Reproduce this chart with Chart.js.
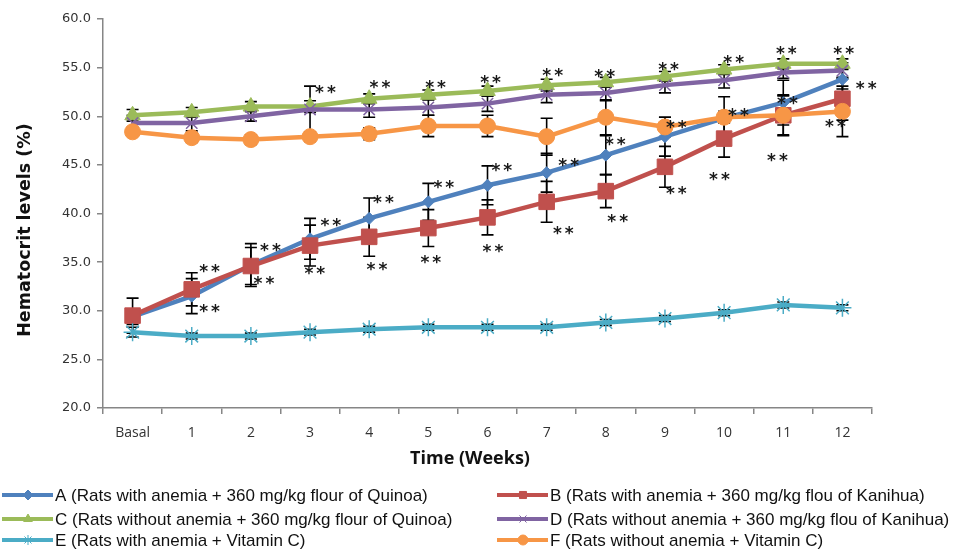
<!DOCTYPE html>
<html>
<head>
<meta charset="utf-8">
<script src="https://cdn.jsdelivr.net/npm/chart.js@4.4.1/dist/chart.umd.min.js"></script>
<style>
  html, body { margin: 0; padding: 0; background: #fff; }
  #wrap { width: 958px; height: 549px; }
</style>
</head>
<body>
<div id="wrap"><canvas id="c"></canvas></div>
<script>
// categories
const weeks = ['Basal', '1', '2', '3', '4', '5', '6', '7', '8', '9', '10', '11', '12'];

// series means (%)
const groupA = [29.4, 31.5, 34.7, 37.4, 39.5, 41.2, 42.9, 44.2, 46.0, 47.9, 49.8, 51.4, 53.8];
const groupB = [29.5, 32.2, 34.6, 36.7, 37.6, 38.5, 39.6, 41.2, 42.3, 44.8, 47.7, 50.1, 51.8];
const groupC = [50.1, 50.4, 51.0, 51.0, 51.8, 52.2, 52.6, 53.2, 53.5, 54.1, 54.8, 55.4, 55.4];
const groupD = [49.3, 49.3, 50.0, 50.7, 50.7, 50.9, 51.3, 52.2, 52.4, 53.2, 53.7, 54.5, 54.7];
const groupE = [27.8, 27.4, 27.4, 27.8, 28.1, 28.3, 28.3, 28.3, 28.8, 29.2, 29.8, 30.6, 30.3];
const groupF = [48.4, 47.8, 47.6, 47.9, 48.2, 49.0, 49.0, 47.9, 49.9, 48.9, 49.9, 50.1, 50.5];

// error bars (+/-)
const errA = [0.8, 1.8, 2.2, 2.1, 2.1, 1.9, 2.0, 2.0, 2.0, 2.0, 2.2, 2.3, 1.0];
const errB = [1.8, 1.7, 1.9, 2.1, 2.0, 1.9, 1.8, 2.1, 1.7, 2.1, 1.9, 2.1, 2.2];
const errC = [0.6, 0.5, 0.5, 0.6, 0.5, 0.5, 0.5, 0.6, 0.5, 0.5, 0.5, 0.5, 0.5];
const errD = [0.8, 0.8, 0.5, 2.4, 0.8, 0.8, 0.8, 0.8, 0.8, 0.8, 0.8, 0.6, 0.8];
const errE = [0.5, 0.3, 0.3, 0.3, 0.3, 0.3, 0.3, 0.3, 0.3, 0.3, 0.3, 0.3, 0.3];
const errF = [0.4, 0.5, 0.5, 0.5, 0.6, 1.1, 1.1, 1.9, 1.8, 1.0, 0.6, 2.0, 2.6];

// significance marks "**" (category index, value)
const sigX = [1.31, 1.31, 2.34, 2.23, 3.36, 3.09, 3.27, 4.25, 4.14, 4.19, 5.27, 5.05, 5.13,
              6.25, 6.10, 6.06, 7.11, 7.29, 7.38, 7.99, 8.21, 8.17, 9.07, 9.20, 9.20,
              10.17, 9.93, 10.25, 11.06, 10.91, 11.08, 12.03, 12.41, 11.89];
const sigY = [34.5, 30.4, 36.7, 33.3, 39.2, 34.3, 52.9, 41.6, 34.7, 53.4, 43.1, 35.4, 53.4,
              44.9, 36.6, 53.9, 54.7, 38.4, 45.4, 54.6, 39.6, 47.6, 55.3, 42.5, 49.3,
              56.0, 44.0, 50.5, 56.9, 45.9, 51.8, 56.9, 53.3, 49.4];

const yTicks = [20, 25, 30, 35, 40, 45, 50, 55, 60];

const labels = [
  'A (Rats with anemia + 360 mg/kg flour of Quinoa)',
  'B (Rats with anemia + 360 mg/kg flou of Kanihua)',
  'C (Rats without anemia + 360 mg/kg flour of Quinoa)',
  'D (Rats without anemia + 360 mg/kg flou of Kanihua)',
  'E (Rats with anemia + Vitamin C)',
  'F (Rats without anemia + Vitamin C)'
];
const xTitle = 'Time (Weeks)';
const yTitle = 'Hematocrit levels (%)';

function series(i, data, errors, color, style, radius, fill) {
  return {
    label: labels[i], data, errors,
    borderColor: color, backgroundColor: color,
    borderWidth: 4.5, tension: 0,
    pointStyle: style, pointRadius: radius, pointHoverRadius: radius,
    pointBackgroundColor: fill ? color : 'transparent',
    pointBorderColor: color, pointBorderWidth: fill ? 1 : 1.5,
    order: 6 - i
  };
}

const datasets = [
  series(0, groupA, errA, '#4F81BD', 'rectRot', 6, true),
  series(1, groupB, errB, '#C0504D', 'rect', 11, true),
  series(2, groupC, errC, '#9BBB59', 'triangle', 9, true),
  series(3, groupD, errD, '#8064A2', 'crossRot', 8, false),
  series(4, groupE, errE, '#4BACC6', 'star', 9, false),
  series(5, groupF, errF, '#F79646', 'circle', 8, true)
];

// error bars under the markers
const errorBars = {
  id: 'errorBars',
  beforeDatasetsDraw(chart) {
    const { ctx, scales: { y } } = chart;
    ctx.save();
    ctx.strokeStyle = '#000';
    ctx.lineWidth = 1.6;
    chart.data.datasets.forEach((ds, i) => {
      chart.getDatasetMeta(i).data.forEach((pt, j) => {
        const top = y.getPixelForValue(ds.data[j] + ds.errors[j]);
        const bot = y.getPixelForValue(ds.data[j] - ds.errors[j]);
        ctx.beginPath();
        ctx.moveTo(pt.x, top); ctx.lineTo(pt.x, bot);
        ctx.moveTo(pt.x - 6, top); ctx.lineTo(pt.x + 6, top);
        ctx.moveTo(pt.x - 6, bot); ctx.lineTo(pt.x + 6, bot);
        ctx.stroke();
      });
    });
    ctx.restore();
  }
};

const sigMarks = {
  id: 'sigMarks',
  afterDatasetsDraw(chart) {
    const { ctx, scales: { x, y } } = chart;
    ctx.save();
    ctx.fillStyle = '#1a1a1a';
    ctx.font = 'bold 17px "DejaVu Sans", sans-serif';
    ctx.letterSpacing = '3px';
    ctx.textAlign = 'center';
    ctx.textBaseline = 'alphabetic';
    sigX.forEach((v, k) => {
      ctx.fillText('**', x.getPixelForValue(v) + 1, y.getPixelForValue(sigY[k]) + 10);
    });
    ctx.restore();
  }
};

// axis titles and two-column legend
const labelsBox = {
  id: 'labelsBox',
  afterDraw(chart) {
    const { ctx } = chart;
    ctx.save();
    ctx.fillStyle = '#111';
    ctx.textAlign = 'center';
    ctx.textBaseline = 'middle';
    ctx.font = 'bold 18px "Open Sans", sans-serif';
    ctx.fillText(xTitle, 470, 459);
    ctx.translate(25, 230);
    ctx.rotate(-Math.PI / 2);
    ctx.font = 'bold 17.5px "DejaVu Sans", sans-serif';
    ctx.fillText(yTitle, 0, 0);
    ctx.restore();

    const cols = [2, 497], rows = [495, 519, 540];
    const draw = Chart.helpers && Chart.helpers.drawPoint;
    ctx.save();
    chart.data.datasets.forEach((ds, i) => {
      const x0 = cols[i % 2], yy = rows[Math.floor(i / 2)];
      ctx.strokeStyle = ds.borderColor;
      ctx.lineWidth = 4;
      ctx.beginPath(); ctx.moveTo(x0, yy); ctx.lineTo(x0 + 51, yy); ctx.stroke();
      if (draw) {
        ctx.fillStyle = ds.pointBackgroundColor;
        ctx.strokeStyle = ds.pointBorderColor;
        ctx.lineWidth = 1;
        draw(ctx, { pointStyle: ds.pointStyle, radius: 5, borderWidth: 1, rotation: 0 }, x0 + 26, yy);
      }
      ctx.fillStyle = '#111';
      ctx.font = '17px "Liberation Sans", Arial, sans-serif';
      ctx.textAlign = 'left';
      ctx.textBaseline = 'middle';
      ctx.fillText(ds.label, x0 + 53, yy + 1);
    });
    ctx.restore();
  }
};

new Chart(document.getElementById('c'), {
  type: 'line',
  data: { labels: weeks, datasets },
  plugins: [errorBars, sigMarks, labelsBox],
  options: {
    responsive: true, maintainAspectRatio: false,
    animation: false,
    layout: { padding: { top: 19, right: 86, bottom: 0, left: 0 } },
    plugins: { legend: { display: false }, tooltip: { enabled: false } },
    scales: {
      x: {
        offset: true,
        afterFit: s => { s.height = 141; },
        grid: { display: true, drawOnChartArea: false, offset: true, tickLength: 6, color: '#868686', lineWidth: 1.5 },
        border: { color: '#868686', width: 1.5 },
        ticks: { color: '#333', padding: 11, font: { family: '"Open Sans", sans-serif', size: 14 } }
      },
      y: {
        min: 20, max: 60,
        afterFit: s => { s.width = 103; },
        afterBuildTicks: s => { s.ticks = yTicks.map(v => ({ value: v })); },
        grid: { display: true, drawOnChartArea: false, tickLength: 6, color: '#868686', lineWidth: 1.5 },
        border: { color: '#868686', width: 1.5 },
        ticks: { color: '#333', padding: 6, font: { family: '"DejaVu Sans", sans-serif', size: 13 }, callback: v => v.toFixed(1) }
      }
    }
  }
});
</script>
</body>
</html>
